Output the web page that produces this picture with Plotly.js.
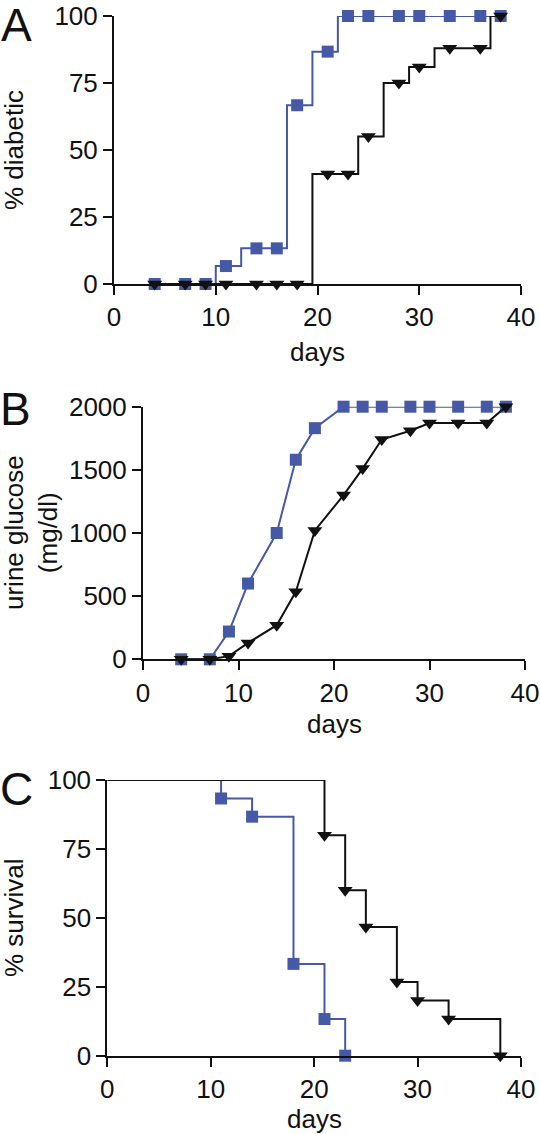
<!DOCTYPE html>
<html>
<head>
<meta charset="utf-8">
<script src="https://cdn.plot.ly/plotly-3.0.1.min.js"></script>
<style>html,body{margin:0;padding:0;background:#fff;}#chart{width:540px;height:1134px;}</style>
</head>
<body>
<div id="chart"></div>
<script>
// ---- data ----
var daysA = [4, 7, 9, 11, 14, 16, 18, 21, 23, 25, 28, 30, 33, 36, 38];
var diabeticBlue = [0, 0, 0, 6.7, 13.3, 13.3, 66.7, 86.7, 100, 100, 100, 100, 100, 100, 100];
var diabeticBlack = [0, 0, 0, 0, 0, 0, 0, 41, 41, 55, 75, 81, 88, 88, 100];

var daysB = [4, 7, 9, 11, 14, 16, 18, 21, 23, 25, 28, 30, 33, 36, 38];
var glucoseBlue = [0, 0, 220, 600, 1000, 1580, 1830, 2000, 2000, 2000, 2000, 2000, 2000, 2000, 2000];
var glucoseBlack = [0, 0, 25, 130, 270, 535, 1020, 1300, 1510, 1740, 1810, 1870, 1870, 1870, 2000];

var survDaysBlue = [0, 11, 14, 18, 21, 23];
var survivalBlue = [100, 93.3, 86.7, 33.3, 13.3, 0];
var survDaysBlack = [0, 21, 23, 25, 28, 30, 33, 38];
var survivalBlack = [100, 80, 60, 46.7, 26.7, 20, 13.3, 0];

var xTicks = [0, 10, 20, 30, 40];
var pctTicks = [0, 25, 50, 75, 100];
var glucoseTicks = [0, 500, 1000, 1500, 2000];

// ---- styles ----
var BLUE = '#4659A6', BLACK = '#111111';
var FONT = 'Liberation Sans, Arial, sans-serif';
var TXT = 26;
var sq = {symbol: 'square', size: 12, color: BLUE};
var tri = {symbol: 'triangle-down', size: 13, color: BLACK};

var traces = [
  {x: daysA, y: diabeticBlue, xaxis: 'x', yaxis: 'y', mode: 'lines+markers', line: {shape: 'hvh', color: BLUE, width: 2}, marker: sq, cliponaxis: false},
  {x: daysA, y: diabeticBlack, xaxis: 'x', yaxis: 'y', mode: 'lines+markers', line: {shape: 'hvh', color: BLACK, width: 2}, marker: tri, cliponaxis: false},
  {x: daysB, y: glucoseBlue, xaxis: 'x2', yaxis: 'y2', mode: 'lines+markers', line: {color: BLUE, width: 2}, marker: sq, cliponaxis: false},
  {x: daysB, y: glucoseBlack, xaxis: 'x2', yaxis: 'y2', mode: 'lines+markers', line: {color: BLACK, width: 2}, marker: tri, cliponaxis: false},
  {x: survDaysBlue, y: survivalBlue, xaxis: 'x3', yaxis: 'y3', mode: 'lines', line: {shape: 'hv', color: BLUE, width: 2}, cliponaxis: false},
  {x: survDaysBlue.slice(1), y: survivalBlue.slice(1), xaxis: 'x3', yaxis: 'y3', mode: 'markers', marker: sq, cliponaxis: false},
  {x: survDaysBlack, y: survivalBlack, xaxis: 'x3', yaxis: 'y3', mode: 'lines', line: {shape: 'hv', color: BLACK, width: 2}, cliponaxis: false},
  {x: survDaysBlack.slice(1), y: survivalBlack.slice(1), xaxis: 'x3', yaxis: 'y3', mode: 'markers', marker: tri, cliponaxis: false}
];

var W = 540, H = 1134;
function dx(a, b) { return [a / W, b / W]; }
function dy(top, bottom) { return [1 - bottom / H, 1 - top / H]; }

function axisBase(extra) {
  var a = {
    showline: true, linewidth: 2, linecolor: BLACK,
    ticks: 'outside', ticklen: 9, tickwidth: 2, tickcolor: BLACK,
    showgrid: false, zeroline: false, fixedrange: true,
    ticklabeloverflow: 'allow',
    tickfont: {family: FONT, size: TXT, color: BLACK}
  };
  for (var k in extra) a[k] = extra[k];
  return a;
}

function label(text, xpx, ypx, size, angle) {
  return {text: text, x: xpx / W, y: 1 - ypx / H, xref: 'paper', yref: 'paper',
    xanchor: 'center', yanchor: 'middle', showarrow: false, textangle: angle || 0,
    font: {family: FONT, size: size, color: BLACK}};
}

var layout = {
  width: W, height: H,
  margin: {l: 0, r: 0, t: 0, b: 0},
  paper_bgcolor: '#fff', plot_bgcolor: '#fff',
  showlegend: false,
  xaxis: axisBase({domain: dx(114, 521), range: [0, 40], tickvals: xTicks, anchor: 'y'}),
  yaxis: axisBase({domain: dy(16, 284), range: [0, 100], tickvals: pctTicks, anchor: 'x'}),
  xaxis2: axisBase({domain: dx(143, 525), range: [0, 40], tickvals: xTicks, anchor: 'y2'}),
  yaxis2: axisBase({domain: dy(406.7, 659.3), range: [0, 2000], tickvals: glucoseTicks, anchor: 'x2'}),
  xaxis3: axisBase({domain: dx(107.3, 521), range: [0, 40], tickvals: xTicks, anchor: 'y3'}),
  yaxis3: axisBase({domain: dy(780, 1055.7), range: [0, 100], tickvals: pctTicks, anchor: 'x3'}),
  annotations: [
    label('A', 16.5, 25, 46),
    label('B', 15, 409, 46),
    label('C', 16, 789, 46),
    label('days', 317.5, 352, TXT),
    label('days', 334, 724, TXT),
    label('days', 314, 1119, TXT),
    label('% diabetic', 14, 150, TXT, -90),
    label('urine glucose<br>(mg/dl)', 31, 533, TXT, -90),
    label('% survival', 14, 918, TXT, -90)
  ]
};

Plotly.newPlot('chart', traces, layout, {staticPlot: true, displayModeBar: false});
</script>
</body>
</html>
